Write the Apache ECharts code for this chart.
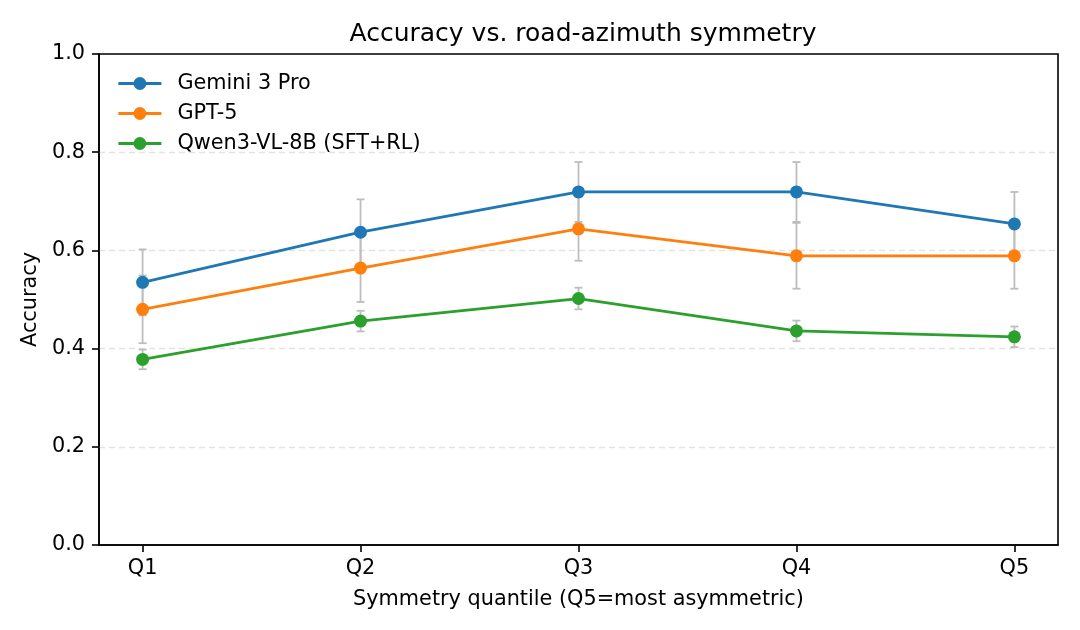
<!DOCTYPE html>
<html>
<head>
<meta charset="utf-8">
<script src="https://cdn.jsdelivr.net/npm/echarts@6/dist/echarts.min.js"></script>
<style>html,body{margin:0;padding:0;background:#fff}#c{width:1080px;height:630px}</style>
</head>
<body>
<div id="c"></div>
<script>
const categories = ['Q1', 'Q2', 'Q3', 'Q4', 'Q5'];
const seriesNames = ['Gemini 3 Pro', 'GPT-5', 'Qwen3-VL-8B (SFT+RL)'];
const gemini = [0.535, 0.637, 0.719, 0.719, 0.654];
const gpt5 = [0.480, 0.564, 0.644, 0.589, 0.589];
const qwen = [0.378, 0.456, 0.502, 0.436, 0.424];
const geminiErr = [0.067, 0.067, 0.061, 0.061, 0.065];
const gpt5Err = [0.069, 0.069, 0.065, 0.067, 0.067];
const qwenErr = [0.020, 0.021, 0.022, 0.021, 0.021];

const colors = ['#1f77b4', '#ff7f0e', '#2ca02c'];
const values = [gemini, gpt5, qwen];
const errs = [geminiErr, gpt5Err, qwenErr];
const FONT = 'DejaVu Sans';

const chart = echarts.init(document.getElementById('c'), null, {renderer: 'canvas'});

function errRender(params, api) {
  const x = api.value(0), lo = api.value(1), hi = api.value(2);
  const p1 = api.coord([x, lo]), p2 = api.coord([x, hi]);
  const cap = 4;
  const style = {stroke: '#bdbdbd', lineWidth: 1.8};
  return {
    type: 'group',
    children: [
      {type: 'line', shape: {x1: p1[0], y1: p1[1], x2: p2[0], y2: p2[1]}, style},
      {type: 'line', shape: {x1: p1[0] - cap, y1: p1[1], x2: p1[0] + cap, y2: p1[1]}, style},
      {type: 'line', shape: {x1: p2[0] - cap, y1: p2[1], x2: p2[0] + cap, y2: p2[1]}, style}
    ]
  };
}

const series = [];
values.forEach((vals, i) => {
  series.push({
    type: 'custom',
    name: seriesNames[i] + ' err',
    renderItem: errRender,
    data: vals.map((v, j) => [j, v - errs[i][j], v + errs[i][j]]),
    z: 1,
    silent: true,
    encode: {x: 0, y: [1, 2]}
  });
});
values.forEach((vals, i) => {
  series.push({
    type: 'line',
    name: seriesNames[i],
    data: vals.map((v, j) => [j, v]),
    symbol: 'circle',
    symbolSize: 13,
    lineStyle: {color: colors[i], width: 2.8},
    itemStyle: {color: colors[i]},
    z: 3 + i,
    animation: false
  });
});

chart.setOption({
  animation: false,
  title: {
    text: 'Accuracy vs. road-azimuth symmetry',
    left: 578, top: 17, textAlign: 'center',
    textStyle: {fontFamily: FONT, fontSize: 25, fontWeight: 'normal', color: '#000'}
  },
  legend: {
    data: seriesNames,
    left: 112, top: 68, orient: 'vertical',
    itemWidth: 43, itemHeight: 16, itemGap: 9,
    lineStyle: {width: 2.8},
    textStyle: {fontFamily: FONT, fontSize: 20.8, color: '#000', lineHeight: 21, padding: [0, 0, 0, 11]}
  },
  grid: {
    left: 99, right: 22, top: 54, bottom: 85,
    show: true, borderColor: '#000', borderWidth: 1.6, backgroundColor: 'transparent'
  },
  xAxis: {
    type: 'value', min: -0.2, max: 4.2,
    name: 'Symmetry quantile (Q5=most asymmetric)',
    nameLocation: 'middle', nameGap: 44,
    nameTextStyle: {fontFamily: FONT, fontSize: 20.8, color: '#000'},
    axisLine: {show: true, onZero: false, lineStyle: {color: '#000', width: 1.6}},
    axisTick: {show: true, customValues: [0, 1, 2, 3, 4], length: 7, lineStyle: {color: '#000', width: 1.6}},
    axisLabel: {
      customValues: [0, 1, 2, 3, 4], margin: 13,
      fontFamily: FONT, fontSize: 20.8, color: '#000',
      formatter: v => categories[Math.round(v)] || ''
    },
    splitLine: {show: false}
  },
  yAxis: {
    type: 'value', min: 0, max: 1, interval: 0.2,
    name: 'Accuracy', nameLocation: 'middle', nameGap: 56,
    nameTextStyle: {fontFamily: FONT, fontSize: 20.8, color: '#000'},
    axisLine: {show: true, onZero: false, lineStyle: {color: '#000', width: 1.6}},
    axisTick: {show: true, length: 7, lineStyle: {color: '#000', width: 1.6}},
    axisLabel: {
      margin: 14, fontFamily: FONT, fontSize: 20.8, color: '#000',
      formatter: v => v.toFixed(1)
    },
    splitLine: {show: true, showMinLine: false, showMaxLine: false, lineStyle: {color: '#e3e3e3', type: [6, 4], width: 1.4}}
  },
  series
});
</script>
</body>
</html>
